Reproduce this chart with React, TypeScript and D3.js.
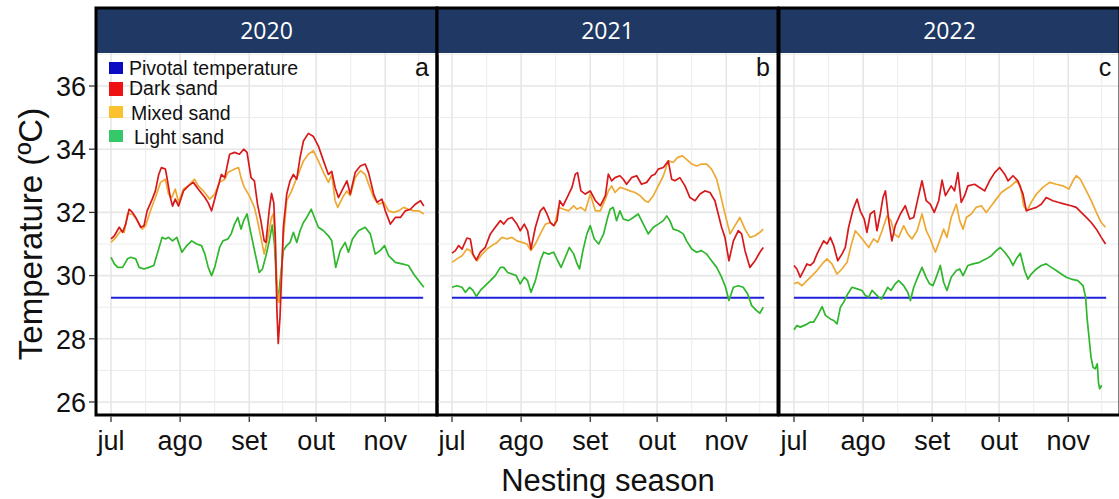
import React from "react";
import * as d3 from "d3";

// ---- data: [day since 1 Jul, temperature ºC] ----
const years = ["2020", "2021", "2022"];
const panelLetters = ["a", "b", "c"];
const monthLabels = ["jul", "ago", "set", "out", "nov"];
const monthDays = [0, 31, 62, 92, 123];
const minorDays = [15.5, 46.5, 77, 107.5, 138];
const yTicks = [26, 28, 30, 32, 34, 36];
const yMinor = [27, 29, 31, 33, 35, 37];
const pivotalTemp = 29.3;
const pivotalSpan = [0, 140];
const legendLabels = ["Pivotal temperature", "Dark sand", "Mixed sand", "Light sand"];

const dark2020 = [[0,31.16],[1.5,31.26],[3.7,31.53],[5.2,31.37],[6.6,31.63],[8.1,32.1],[9.6,32.0],[11.1,31.84],[13.3,31.53],[14.8,31.58],[16.2,32.05],[18.5,32.42],[19.9,32.68],[21.4,33.2],[22.6,33.42],[24.4,33.37],[25.1,33.1],[26.6,32.47],[27.6,32.2],[28.8,32.42],[30.3,32.2],[32.5,32.68],[34.7,32.84],[36.9,32.95],[39.1,32.74],[42.1,32.47],[43.6,32.3],[45.1,32.05],[47.3,32.63],[49.5,33.2],[51,33.1],[53.2,33.84],[55.4,33.9],[57.6,33.84],[59.5,34.0],[61,33.9],[62.8,33.1],[64.3,33.0],[65.7,32.26],[67.2,31.74],[68.7,31.1],[69.5,31.05],[71,32.1],[72,32.6],[73,32.3],[73.7,31.2],[74.4,28.9],[75,27.85],[75.8,28.7],[77.3,31.53],[78.8,32.58],[80.3,33.0],[81.8,33.2],[83.3,33.05],[84.8,33.74],[86.3,34.26],[88.5,34.5],[90.8,34.4],[93,34.1],[95.3,33.63],[97.5,33.2],[99,33.3],[100.5,32.79],[102,32.47],[104.3,32.79],[105.8,33.0],[107.3,32.58],[109.5,33.26],[111.8,33.47],[114,33.53],[115.5,33.26],[117.8,32.58],[119.3,32.32],[121.5,32.42],[123,32.05],[125.3,31.63],[127.5,31.84],[129.8,31.84],[132,32.05],[134.3,32.1],[136.5,32.26],[138.8,32.37],[140.3,32.2]];
const mixed2020 = [[0,31.05],[2.2,31.21],[4.4,31.42],[5.9,31.37],[7.4,31.95],[9.6,31.95],[11.8,31.74],[14,31.47],[15.5,31.58],[17.7,32.05],[19.9,32.47],[22.2,32.95],[24.4,33.05],[25.8,32.58],[27.3,32.47],[28.8,32.74],[30.3,32.32],[32.5,32.74],[34.7,32.84],[37.4,33.05],[39.1,32.84],[41.4,32.68],[44.3,32.42],[46.5,32.58],[48.7,32.95],[51,33.05],[52.4,33.26],[53.9,33.32],[55.4,33.37],[57.2,33.42],[58.3,33.1],[59.8,32.79],[62,32.53],[64.3,32.16],[65.7,31.74],[67.2,31.21],[68.7,30.68],[70.3,31.2],[72,31.84],[72.8,31.95],[73.5,31.2],[74.6,29.5],[75.3,29.15],[75.8,29.3],[77.3,31.2],[78.8,32.37],[81,32.68],[82.5,32.95],[84,33.2],[86.3,33.63],[88.5,33.84],[90.8,33.95],[93,33.63],[95.3,33.26],[97.5,32.95],[99,33.2],[100.5,32.37],[101.7,32.16],[104.3,32.53],[105.8,32.68],[107.3,32.53],[109.5,33.1],[111.8,33.32],[114,33.2],[115.8,32.84],[117.8,32.47],[120,32.26],[122.3,32.32],[124.5,32.05],[126.7,32.0],[129,32.05],[131.2,32.16],[133.4,32.1],[135.7,32.05],[138,32.05],[140.3,31.95]];
const light2020 = [[0,30.58],[1.5,30.37],[3,30.26],[5.2,30.26],[7.4,30.53],[8.9,30.58],[11.1,30.53],[12.6,30.26],[14.8,30.21],[17,30.26],[19.2,30.32],[20.7,30.68],[22.9,31.21],[24.4,31.16],[25.8,31.21],[27.6,31.1],[29.5,31.21],[31.8,30.74],[34,30.95],[36.2,31.1],[38.4,31.0],[40.6,30.95],[42.1,30.68],[43.6,30.26],[45.1,30.0],[46.5,30.26],[48.7,30.89],[50.2,31.1],[52.4,31.16],[53.9,31.32],[55.4,31.63],[56.9,31.84],[58.3,31.47],[59.5,31.74],[61,31.95],[62.8,31.32],[65,30.58],[66.5,30.1],[67.9,30.21],[69.4,30.6],[71,31.1],[72.3,31.6],[73.3,31.0],[74.2,29.8],[75,29.2],[75.8,29.8],[77.3,30.79],[78.8,30.95],[80.3,31.05],[81.8,31.37],[83.3,31.05],[84.8,31.42],[86.3,31.68],[87.8,31.84],[89.8,32.1],[91.5,31.79],[93,31.53],[95.3,31.42],[97.5,31.26],[99,31.1],[100.8,30.26],[102.8,30.79],[105,31.05],[106.5,30.74],[108.3,31.16],[111,31.42],[114,31.53],[116.3,31.32],[118.5,30.68],[120.7,30.79],[122.7,30.95],[124.5,30.63],[127.5,30.42],[130.5,30.37],[133.4,30.32],[135.7,30.05],[138,29.84],[140.3,29.63]];

const dark2021 = [[0,30.71],[1.5,30.79],[3,30.95],[4.5,30.84],[6.7,31.19],[8.2,31.16],[9.4,30.68],[10.9,30.49],[12.7,30.74],[14.9,30.89],[17.2,31.32],[19.4,31.53],[21.7,31.74],[23.2,31.63],[25,31.79],[26.9,31.84],[29.1,31.63],[30.6,31.42],[32.4,31.63],[33.9,31.42],[35.4,30.84],[37.4,31.53],[39.6,32.05],[41.1,32.16],[42.6,31.95],[44.1,31.68],[45.6,31.58],[47.1,31.74],[48.3,32.37],[49.8,32.21],[51.6,32.47],[53.8,32.79],[55.3,33.21],[56.3,33.26],[57.8,32.68],[59.8,32.58],[62,32.68],[64.3,32.37],[66.5,32.21],[68.8,32.53],[70.1,33.21],[71.6,33.0],[73.1,33.1],[75.3,33.16],[76.8,33.05],[78.3,32.89],[80.5,33.1],[82.8,33.16],[85,32.89],[87.3,32.95],[89.5,33.16],[91,33.21],[92.5,33.37],[94.8,33.42],[97,33.63],[98.5,33.05],[100,33.0],[102.2,33.1],[104.5,32.84],[106.7,32.47],[109,32.37],[111.2,32.58],[113.4,32.68],[115.7,32.63],[117.9,32.37],[119.4,31.95],[120.9,31.53],[122.4,31.21],[124.2,30.47],[126.2,31.1],[128.4,31.42],[129.9,31.32],[131.4,30.79],[133.6,30.26],[135.9,30.47],[138.1,30.74],[139.6,30.89]];
const mixed2021 = [[0,30.42],[2.2,30.53],[4.5,30.63],[6.7,30.84],[8.2,30.79],[10,30.58],[11.2,30.47],[13.5,30.68],[15.7,30.84],[17.9,30.95],[20.2,31.05],[22.4,31.21],[24.7,31.16],[26.9,31.21],[29.1,31.1],[31.4,31.05],[33.6,31.0],[35.4,30.79],[37.4,31.0],[39.6,31.32],[41.9,31.63],[44.1,31.68],[45.9,31.58],[47.8,32.16],[50.1,32.1],[52.3,32.05],[54.6,32.21],[56,32.1],[57.8,32.16],[59.8,32.05],[62,32.58],[64.3,32.05],[66.5,32.05],[68.8,32.42],[70.1,32.68],[71.6,32.84],[73.1,32.63],[75.3,32.79],[77.6,32.74],[79.8,32.68],[82.1,32.63],[84.3,32.53],[86.5,32.37],[88,32.32],[90.3,32.53],[92.5,32.84],[94.8,33.16],[97,33.63],[99.2,33.58],[101.2,33.74],[103.3,33.79],[105.2,33.68],[107.5,33.53],[109.7,33.47],[111.9,33.53],[114.2,33.53],[116.4,33.37],[118.7,33.05],[120.2,32.63],[121.7,32.16],[123.2,31.74],[124.7,31.32],[126.9,31.58],[129.1,31.84],[131.4,31.47],[133.6,31.21],[135.9,31.26],[138.1,31.37],[139.6,31.47]];
const light2021 = [[0,29.63],[2.2,29.68],[4.5,29.63],[6,29.47],[7.9,29.63],[9.4,29.53],[10.9,29.34],[12.7,29.53],[14.9,29.68],[17.2,29.84],[19.4,30.0],[21.7,30.26],[23.2,30.26],[25,30.1],[26.9,30.05],[28.8,30.0],[30.6,29.74],[32.4,29.95],[33.9,29.84],[35.4,29.47],[37.4,29.84],[39.6,30.47],[41.1,30.74],[43.3,30.68],[45.6,30.74],[47.4,30.47],[48.9,30.26],[50.8,30.58],[52.6,30.89],[54.6,30.68],[56.1,30.37],[57.2,30.21],[58.7,30.79],[60.5,31.32],[62,31.58],[63.8,31.16],[65.8,31.0],[68,31.32],[69.8,31.84],[70.9,32.1],[72.3,32.16],[73.8,31.74],[75.3,32.05],[76.8,31.79],[79.1,31.74],[81.3,31.84],[83.5,31.95],[85.8,31.63],[88,31.32],[90.3,31.53],[92.5,31.63],[94.8,31.74],[96.3,31.89],[97.7,31.74],[99.2,31.47],[101.5,31.42],[103.7,31.32],[105.2,31.1],[107.5,30.84],[109.7,30.74],[111.9,30.79],[114.2,30.68],[116.4,30.47],[118.7,30.26],[120.9,29.95],[122.7,29.63],[124.2,29.21],[126.2,29.63],[128.4,29.68],[130.6,29.63],[132.6,29.42],[134.4,29.05],[136.6,28.89],[138.1,28.81],[139.6,29.0]];

const dark2022 = [[0,30.32],[1.3,30.21],[2.8,29.95],[4.3,30.16],[5.8,30.37],[7.3,30.32],[8.8,30.42],[10.3,30.68],[11.8,30.89],[13.3,31.1],[14.8,31.0],[16.3,31.21],[17.8,30.95],[19.6,30.47],[21.5,30.68],[23,30.89],[24.5,31.53],[26.5,32.1],[28.3,32.42],[29.7,32.05],[31.5,31.79],[32.7,31.37],[34.2,31.95],[36,32.05],[37.2,31.42],[38.7,31.95],[39.9,32.47],[41,32.68],[42.5,31.74],[43.9,31.1],[45.4,31.58],[47.7,31.95],[49.9,32.21],[51.9,31.79],[53.7,31.84],[55.5,32.42],[57.4,33.0],[59.3,32.37],[61.1,32.26],[62.9,32.0],[64.9,32.37],[66.4,33.02],[67.9,32.53],[70.5,32.84],[72,32.68],[73.5,33.26],[75,32.32],[76.5,32.53],[78,32.84],[81,32.89],[83.2,32.79],[85.5,32.68],[87.7,33.0],[90,33.26],[92.2,33.42],[94.5,33.21],[96,33.0],[98.2,33.16],[100.4,33.0],[102.7,32.58],[104.2,32.05],[106,32.1],[108.7,32.16],[110.9,32.26],[113.1,32.47],[116.1,32.37],[118.4,32.32],[121.4,32.26],[124.3,32.21],[126.6,32.16],[128.8,32.0],[131.1,31.84],[133.3,31.68],[135.6,31.47],[137.8,31.21],[139.7,31.0]];
const mixed2022 = [[0,29.74],[1.6,29.79],[3.6,29.68],[5.8,29.84],[8.1,30.0],[10.3,30.16],[12.6,30.37],[14.8,30.53],[17,30.37],[19.3,30.05],[21.5,30.21],[23.8,30.42],[25.6,30.95],[27.5,31.42],[29.4,31.26],[31.2,31.1],[33.5,30.89],[35.7,31.16],[37.5,31.05],[39.5,31.42],[41.7,31.89],[43.5,31.74],[45,31.32],[46.9,31.21],[49.2,31.58],[51,31.32],[52.9,31.16],[55.2,31.42],[57.4,31.95],[59.3,31.42],[61.1,31.16],[63.4,30.74],[65.3,31.1],[67.1,31.47],[68.6,31.21],[70.5,31.84],[72.8,32.26],[74.3,31.74],[75.8,31.47],[77.3,31.84],[79.5,31.95],[81.7,32.16],[84,32.21],[86.2,32.0],[88.5,32.21],[90.7,32.42],[93,32.63],[95.2,32.74],[97.4,32.84],[99.7,33.0],[101.5,32.84],[103,32.21],[104.5,32.05],[106.4,32.32],[108.7,32.58],[111.6,32.79],[114.6,32.95],[117.6,32.89],[120.6,32.84],[123.3,32.74],[125.1,33.0],[126.6,33.16],[128.4,33.05],[131.1,32.68],[133.3,32.37],[135.6,32.0],[137.8,31.68],[139.7,31.53]];
const light2022 = [[0,28.29],[1.3,28.42],[2.8,28.37],[5.1,28.44],[7.3,28.53],[8.8,28.53],[10.6,28.74],[12.6,29.02],[14.1,28.74],[16.3,28.63],[17.8,28.58],[19.3,28.47],[20.8,29.0],[22.3,29.16],[24.1,29.42],[26,29.63],[28.3,29.58],[30.5,29.53],[32,29.37],[33.5,29.32],[35,29.53],[36.5,29.42],[38,29.32],[39.2,29.26],[40.5,29.42],[42,29.63],[43.5,29.53],[45.4,29.74],[46.9,29.84],[49.2,29.68],[51,29.47],[52.2,29.21],[53.7,29.63],[55.5,29.95],[57.4,30.26],[59.2,29.95],[60.8,29.74],[62.3,29.68],[63.8,29.95],[65.6,30.32],[67.1,29.79],[68.6,29.53],[70.5,29.95],[72.8,30.16],[74.3,30.21],[75.8,30.0],[78,30.32],[80.3,30.37],[83.2,30.42],[86.2,30.53],[88.5,30.63],[90.7,30.79],[92.5,30.89],[94.5,30.74],[96.7,30.53],[98.2,30.32],[99.7,30.53],[101.5,30.71],[103.4,30.16],[104.9,29.89],[106.4,30.05],[108.7,30.21],[110.9,30.32],[113.1,30.37],[115.4,30.26],[117.6,30.16],[119.9,30.05],[122.1,29.95],[124.3,29.89],[127.3,29.84],[129.6,29.68],[130.8,29.32],[131.4,28.68],[132.3,28.05],[133.2,27.42],[134.1,27.1],[135.1,27.05],[136,27.21],[136.6,26.58],[137.1,26.42],[138,26.53]];

const darkSeries = [dark2020, dark2021, dark2022];
const mixedSeries = [mixed2020, mixed2021, mixed2022];
const lightSeries = [light2020, light2021, light2022];

// ---- styling / layout ----
const W = 1119, H = 499;
const FONT = "'Liberation Sans', Arial, sans-serif";
const panelLefts = [96, 437, 779];
const panelW = 341;
const stripTop = 8, plotTop = 53, plotBottom = 415;
const lineColors = { pivot: "#2020d8", dark: "#d7191c", mixed: "#eea934", light: "#2eb62c" };
const legendColors = ["#0b0bc4", "#ee1111", "#fcc12e", "#35c868"];

export default function App() {
  const y = d3.scaleLinear().domain([25.589, 37.044]).range([plotBottom, plotTop]);
  return (
    <svg width={W} height={H} style={{ position: "absolute", left: 0, top: 0, background: "#fff" }} fontFamily={FONT}>
      <rect x={0} y={0} width={W} height={H} fill="#fff" />
      {years.map((yr, i) => {
        const left = panelLefts[i];
        const x = d3.scaleLinear().domain([-6.73, 146.2]).range([left, left + panelW]);
        const line = d3.line<number[]>().x((d) => x(d[0])).y((d) => y(d[1]));
        return (
          <g key={yr}>
            {yMinor.map((t) => (
              <line key={"ym" + t} x1={left} x2={left + panelW} y1={y(t)} y2={y(t)} stroke="#ececec" strokeWidth={1} />
            ))}
            {yTicks.map((t) => (
              <line key={"yM" + t} x1={left} x2={left + panelW} y1={y(t)} y2={y(t)} stroke="#e6e6e6" strokeWidth={1.6} />
            ))}
            {minorDays.map((d) => (
              <line key={"xm" + d} x1={x(d)} x2={x(d)} y1={plotTop} y2={plotBottom} stroke="#ececec" strokeWidth={1} />
            ))}
            {monthDays.map((d) => (
              <line key={"xM" + d} x1={x(d)} x2={x(d)} y1={plotTop} y2={plotBottom} stroke="#e6e6e6" strokeWidth={1.6} />
            ))}
            <line x1={x(pivotalSpan[0])} x2={x(pivotalSpan[1])} y1={y(pivotalTemp)} y2={y(pivotalTemp)} stroke={lineColors.pivot} strokeWidth={2} />
            <path d={line(lightSeries[i]) || ""} fill="none" stroke={lineColors.light} strokeWidth={1.7} strokeLinejoin="round" />
            <path d={line(mixedSeries[i]) || ""} fill="none" stroke={lineColors.mixed} strokeWidth={1.7} strokeLinejoin="round" />
            <path d={line(darkSeries[i]) || ""} fill="none" stroke={lineColors.dark} strokeWidth={1.7} strokeLinejoin="round" />
            <rect x={left} y={stripTop} width={panelW} height={plotTop - stripTop} fill="#1f3864" />
            <text x={left + panelW / 2} y={39} textAnchor="middle" fill="#fff" fontSize={23} fontFamily="'Open Sans', 'Noto Sans', sans-serif">{yr}</text>
            <text x={left + panelW - 15} y={76} textAnchor="middle" fill="#111" fontSize={25}>{panelLetters[i]}</text>
            <rect x={left} y={stripTop} width={panelW} height={plotBottom - stripTop} fill="none" stroke="#000" strokeWidth={3} />
            {monthDays.map((d, k) => (
              <g key={"xt" + d}>
                <line x1={x(d)} x2={x(d)} y1={plotBottom + 1.5} y2={plotBottom + 7} stroke="#333" strokeWidth={1.3} />
                <text x={x(d)} y={450} textAnchor="middle" fill="#111" fontSize={27}>{monthLabels[k]}</text>
              </g>
            ))}
          </g>
        );
      })}
      {yTicks.map((t) => (
        <g key={"yt" + t}>
          <line x1={89} x2={95} y1={y(t)} y2={y(t)} stroke="#333" strokeWidth={1.3} />
          <text x={86} y={y(t)} dy="0.36em" textAnchor="end" fill="#111" fontSize={27}>{t}</text>
        </g>
      ))}
      <text transform={`translate(42,234) rotate(-90)`} textAnchor="middle" fill="#111" fontSize={33}>Temperature (ºC)</text>
      <text x={608} y={491} textAnchor="middle" fill="#111" fontSize={31}>Nesting season</text>
      {[
        { ky: 62, kh: 12, tx: 129, ty: 75 },
        { ky: 82, kh: 14, tx: 129, ty: 95 },
        { ky: 106, kh: 12, tx: 131, ty: 120 },
        { ky: 130, kh: 12, tx: 134, ty: 144 },
      ].map((p, k) => (
        <g key={"lg" + k}>
          <rect x={109} y={p.ky} width={14} height={p.kh} fill={legendColors[k]} />
          <text x={p.tx} y={p.ty} fill="#111" fontSize={19.5}>{legendLabels[k]}</text>
        </g>
      ))}
    </svg>
  );
}
